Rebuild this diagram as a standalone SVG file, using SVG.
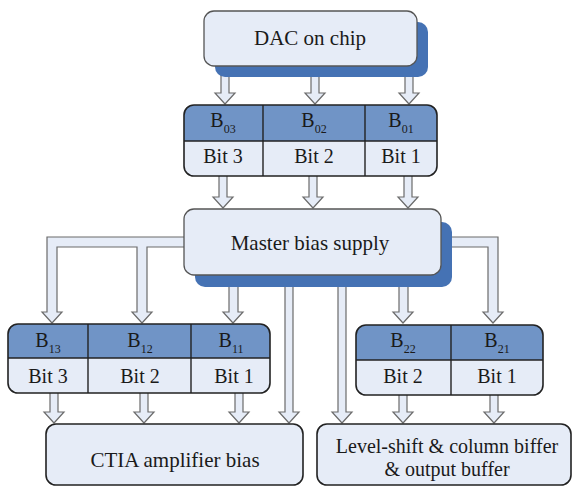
<svg xmlns="http://www.w3.org/2000/svg" width="572" height="486" viewBox="0 0 572 486">
  <style>
    .lbl { font-size: 21px; fill: #1a1a1a; text-anchor: middle; }
    .bit { font-size: 20px; fill: #1a1a1a; text-anchor: middle; }
    .sub { font-size: 12px; }
    .arrow { fill: #e6ecf7; stroke: #6b6b6b; stroke-width: 1.2; stroke-linejoin: miter; }
    .box { fill: #e6ecf7; stroke: #555; stroke-width: 1.3; }
    .shadow { fill: #4572b4; }
    .hdr { fill: #7094c6; }
    .frame { fill: none; stroke: #222; stroke-width: 1.6; }
    .div { stroke: #222; stroke-width: 1.4; }
  </style>

  <!-- block arrows between stages -->
  <g id="connectors">
    <!-- DAC to B0x registers -->
    <polygon class="arrow" points="221,70 229,70 229,93 235,93 225,104 215,93 221,93"/>
    <polygon class="arrow" points="311,70 319,70 319,93 325,93 315,104 305,93 311,93"/>
    <polygon class="arrow" points="405,70 413,70 413,93 419,93 409,104 399,93 405,93"/>
    <!-- B0x registers to master bias supply -->
    <polygon class="arrow" points="219,170 227,170 227,197 233,197 223,208 213,197 219,197"/>
    <polygon class="arrow" points="309,170 317,170 317,197 323,197 313,208 303,197 309,197"/>
    <polygon class="arrow" points="404,170 412,170 412,197 418,197 408,208 398,197 404,197"/>
    <!-- master bias to B13 / B12 (shared branch) -->
    <polygon class="arrow" points="190,237 47,237 47,312 42,312 52,323 62,312 57,312 57,247 137,247 137,312 132,312 142,323 152,312 147,312 147,247 190,247"/>
    <!-- master bias to B11 -->
    <polygon class="arrow" points="229,280 238,280 238,312 243,312 233,323 223,312 229,312"/>
    <!-- master bias to B22 -->
    <polygon class="arrow" points="399,280 408,280 408,312 413,312 403,323 393,312 399,312"/>
    <!-- master bias to B21 -->
    <polygon class="arrow" points="445,237 498,237 498,312 503,312 493,323 483,312 488,312 488,247 445,247"/>
    <!-- master bias direct to output stages -->
    <polygon class="arrow" points="285,280 293,280 293,412 299,412 289,423 279,412 285,412"/>
    <polygon class="arrow" points="338,280 346,280 346,412 352,412 342,423 332,412 338,412"/>
    <!-- B1x bits to CTIA bias -->
    <polygon class="arrow" points="50,388 58,388 58,412 64,412 54,423 44,412 50,412"/>
    <polygon class="arrow" points="140,388 148,388 148,412 154,412 144,423 134,412 140,412"/>
    <polygon class="arrow" points="235,388 243,388 243,412 249,412 239,423 229,412 235,412"/>
    <!-- B2x bits to level-shift / buffers -->
    <polygon class="arrow" points="399,390 407,390 407,412 413,412 403,423 393,412 399,412"/>
    <polygon class="arrow" points="490,390 498,390 498,412 504,412 494,423 484,412 490,412"/>
  </g>

  <!-- every label uses the same serif face -->
  <g font-family="'Liberation Serif', serif">

  <!-- on-chip DAC -->
  <g id="dac">
    <rect class="shadow" x="215" y="22" width="213" height="55" rx="10"/>
    <rect class="box" x="204" y="11" width="213" height="55" rx="10"/>
    <text class="lbl" x="310" y="45">DAC on chip</text>
  </g>

  <!-- register B03..B01 -->
  <g id="reg-b0">
    <rect x="184" y="105" width="253" height="71" rx="10" fill="#e6ecf7"/>
    <path class="hdr" d="M184,141 V115 A10,10 0 0 1 194,105 H427 A10,10 0 0 1 437,115 V141 Z"/>
    <rect class="frame" x="184" y="105" width="253" height="71" rx="10"/>
    <line class="div" x1="184" y1="141" x2="437" y2="141"/>
    <line class="div" x1="263" y1="105" x2="263" y2="176"/>
    <line class="div" x1="365" y1="105" x2="365" y2="176"/>
    <text class="bit" x="223" y="127">B<tspan class="sub" dy="6">03</tspan></text>
    <text class="bit" x="314" y="127">B<tspan class="sub" dy="6">02</tspan></text>
    <text class="bit" x="401" y="127">B<tspan class="sub" dy="6">01</tspan></text>
    <text class="bit" x="223" y="163">Bit 3</text>
    <text class="bit" x="314" y="163">Bit 2</text>
    <text class="bit" x="401" y="163">Bit 1</text>
  </g>

  <!-- master bias supply -->
  <g id="master">
    <rect class="shadow" x="195" y="222" width="257" height="65" rx="10"/>
    <rect class="box" x="184" y="209" width="257" height="66" rx="10"/>
    <text class="lbl" x="310" y="250">Master bias supply</text>
  </g>

  <!-- register B13..B11 -->
  <g id="reg-b1">
    <rect x="8" y="324" width="262" height="69" rx="10" fill="#e6ecf7"/>
    <path class="hdr" d="M8,358 V334 A10,10 0 0 1 18,324 H260 A10,10 0 0 1 270,334 V358 Z"/>
    <rect class="frame" x="8" y="324" width="262" height="69" rx="10"/>
    <line class="div" x1="8" y1="358" x2="270" y2="358"/>
    <line class="div" x1="88" y1="324" x2="88" y2="393"/>
    <line class="div" x1="191" y1="324" x2="191" y2="393"/>
    <text class="bit" x="48" y="347">B<tspan class="sub" dy="6">13</tspan></text>
    <text class="bit" x="140" y="347">B<tspan class="sub" dy="6">12</tspan></text>
    <text class="bit" x="231" y="347">B<tspan class="sub" dy="6">11</tspan></text>
    <text class="bit" x="48" y="383">Bit 3</text>
    <text class="bit" x="140" y="383">Bit 2</text>
    <text class="bit" x="234" y="383">Bit 1</text>
  </g>

  <!-- register B22..B21 -->
  <g id="reg-b2">
    <rect x="356" y="325" width="187" height="70" rx="10" fill="#e6ecf7"/>
    <path class="hdr" d="M356,360 V335 A10,10 0 0 1 366,325 H533 A10,10 0 0 1 543,335 V360 Z"/>
    <rect class="frame" x="356" y="325" width="187" height="70" rx="10"/>
    <line class="div" x1="356" y1="360" x2="543" y2="360"/>
    <line class="div" x1="451" y1="325" x2="451" y2="395"/>
    <text class="bit" x="403" y="347">B<tspan class="sub" dy="6">22</tspan></text>
    <text class="bit" x="497" y="347">B<tspan class="sub" dy="6">21</tspan></text>
    <text class="bit" x="403" y="383">Bit 2</text>
    <text class="bit" x="497" y="383">Bit 1</text>
  </g>

  <!-- CTIA amplifier bias -->
  <g id="ctia">
    <rect x="46" y="424" width="257" height="61" rx="10" fill="#e6ecf7" stroke="#222" stroke-width="1.6"/>
    <text class="lbl" x="175" y="467">CTIA amplifier bias</text>
  </g>

  <!-- level-shift and buffers -->
  <g id="levelshift">
    <rect x="317" y="424" width="254" height="61" rx="10" fill="#e6ecf7" stroke="#222" stroke-width="1.6"/>
    <text class="bit" x="447" y="453">Level-shift &amp; column biffer</text>
    <text class="bit" x="447" y="476">&amp; output buffer</text>
  </g>

  </g>
</svg>
